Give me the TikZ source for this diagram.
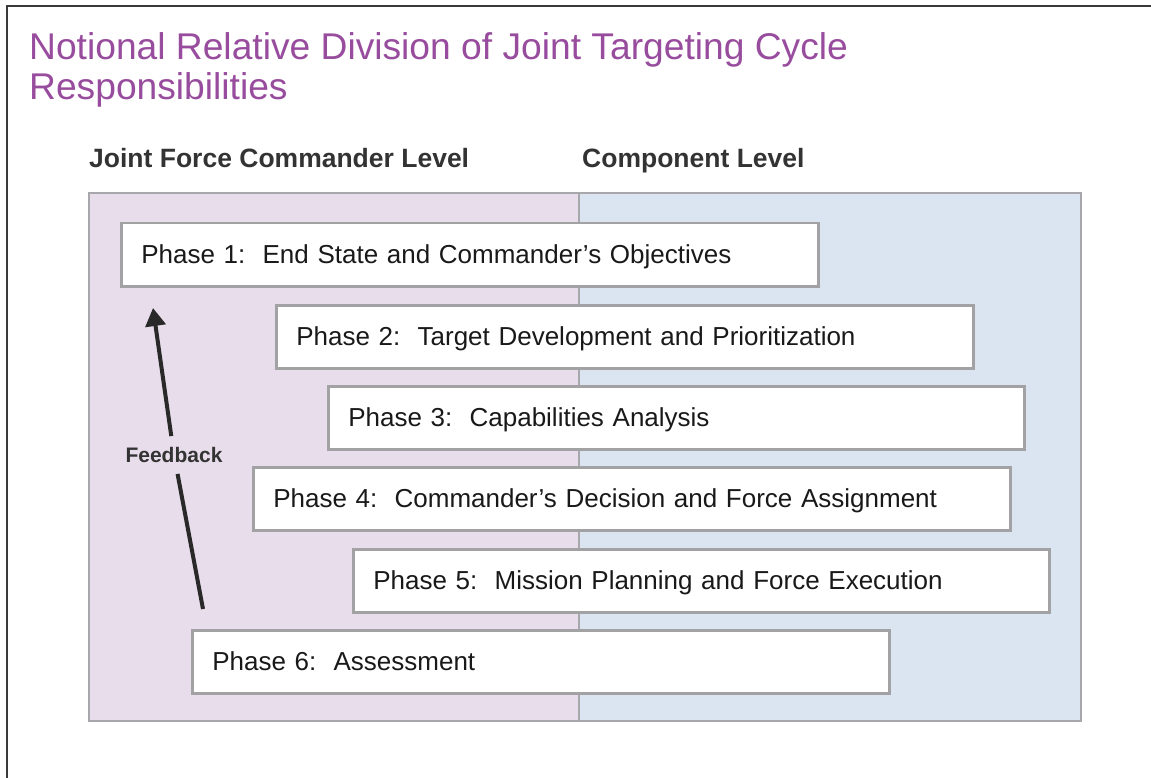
\documentclass[tikz,border=0pt]{standalone}
\usepackage{fontspec}
\setmainfont{Liberation Sans}
\usetikzlibrary{arrows.meta}
\definecolor{pinkbg}{RGB}{232,221,235}
\definecolor{bluebg}{RGB}{219,229,242}
\definecolor{panelborder}{RGB}{168,168,172}
\definecolor{boxborder}{RGB}{162,162,164}
\definecolor{titlepurple}{RGB}{152,76,158}
\definecolor{darktext}{RGB}{51,51,51}
\definecolor{framegray}{RGB}{58,58,58}
\tikzset{
  phasebox/.style={draw=boxborder, line width=2.5pt, fill=white, anchor=north west,
    minimum height=63pt, inner xsep=20pt, inner ysep=0pt, align=left,
    text height=22pt, text depth=4pt,
    font=\fontsize{26}{30}\selectfont, text=black!90},
  header/.style={anchor=base west, inner sep=0pt, font=\fontsize{26.5}{30}\selectfont\bfseries, text=darktext},
  titletext/.style={anchor=base west, inner sep=0pt, text=titlepurple, font=\fontsize{37.2}{42}\selectfont},
  panel/.style={draw=panelborder, line width=1.5pt},
}
\begin{document}
\begin{tikzpicture}[x=1pt,y=-1pt]
\useasboundingbox (0,0) rectangle (1151,778);
% frame
\draw[framegray, line width=2.6pt] (7,790) -- (7,6) -- (1160,6);
% title
\node[titletext] (title1) at (29,60) {Notional Relative Division of Joint Targeting Cycle};
\node[titletext] (title2) at (29,100) {Responsibilities};
% headers
\node[header] (jfc) at (89,168) {Joint Force Commander Level};
\node[header] (comp) at (582,168) {Component Level};
% panels
\fill[pinkbg] (89,193) rectangle (579,721);
\fill[bluebg] (579,193) rectangle (1081,721);
\draw[panel] (89,193) rectangle (1081,721);
\draw[panel] (579,193) -- (579,721);
% phase boxes
\node[phasebox, text width=657pt] (p1) at (120,222) {Phase 1:\ \ End State and Commander’s Objectives};
\node[phasebox, text width=657pt] (p2) at (275,304) {Phase 2:\ \ Target Development and Prioritization};
\node[phasebox, text width=656pt] (p3) at (327,385) {Phase 3:\ \ Capabilities Analysis};
\node[phasebox, text width=717pt] (p4) at (252,466) {Phase 4:\ \ Commander’s Decision and Force Assignment};
\node[phasebox, text width=656pt] (p5) at (352,548) {Phase 5:\ \ Mission Planning and Force Execution};
\node[phasebox, text width=657pt] (p6) at (191,629) {Phase 6:\ \ Assessment};
% feedback arrow
\coordinate (fbstart) at (203,609);
\coordinate (fbtip) at (153,308);
\node[inner xsep=2pt, inner ysep=11pt, font=\fontsize{21}{25}\selectfont\bfseries, text=darktext] (fb) at (174,455) {Feedback};
\draw[darktext!80!black, line width=4pt] (fbstart) -- (fb);
\draw[darktext!80!black, line width=4pt, -{Triangle[width=20pt,length=18pt]}] (fb) -- (fbtip);
\end{tikzpicture}
\end{document}
